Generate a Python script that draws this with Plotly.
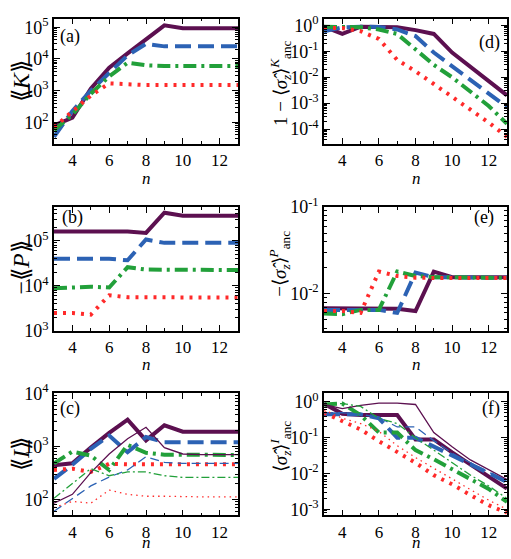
import math
import plotly.graph_objects as go

n = [3, 4, 5, 6, 7, 8, 9, 10, 11, 12, 13]

# (a) <<K>>
a_purple = [80, 140, 1150, 5300, 15000, 43000, 115000, 93000, 93000, 93000, 93000]
a_blue = [35, 230, 1000, 3700, 13000, 30000, 25000, 25000, 25000, 25000, 25000]
a_green = [57, 175, 800, 2800, 7600, 6300, 6000, 6000, 6000, 6000, 6000]
a_red = [70, 230, 700, 1700, 1550, 1500, 1500, 1500, 1500, 1500, 1500]

# (b) -<<P>>
b_purple = [160000, 160000, 160000, 160000, 160000, 150000, 420000, 360000, 360000, 360000, 360000]
b_blue = [40000, 40000, 40000, 40000, 37000, 107000, 90000, 90000, 90000, 90000, 90000]
b_green = [8800, 9200, 9600, 9200, 26000, 23000, 23000, 22500, 22500, 22500, 22500]
b_red = [2500, 2500, 2300, 6200, 5600, 5600, 5600, 5500, 5500, 5500, 5500]

# (c) <<I>>  thick and thin
c_purple = [440, 480, 950, 1800, 3200, 1300, 2500, 1900, 1900, 1900, 1900]
c_blue = [245, 450, 900, 1600, 780, 1500, 1200, 1200, 1200, 1200, 1200]
c_green = [480, 800, 670, 360, 1070, 760, 700, 690, 690, 690, 690]
c_red = [360, 380, 330, 470, 460, 460, 460, 460, 460, 460, 460]
c_purple_thin = [85, 125, 320, 720, 1400, 2300, 950, 720, 700, 700, 700]
c_blue_thin = [60, 105, 180, 265, 360, 640, 500, 480, 480, 480, 480]
c_green_thin = [105, 200, 380, 280, 330, 330, 280, 260, 260, 260, 260]
c_red_thin = [70, 92, 85, 150, 125, 115, 115, 112, 112, 112, 112]

# (d) 1 - <sigma_z>^K_anc
d_purple = [0.9, 0.47, 0.9, 0.9, 0.85, 0.66, 0.47, 0.09, 0.026, 0.0072, 0.002]
d_blue = [0.6, 0.85, 0.9, 0.88, 0.7, 0.39, 0.09, 0.026, 0.0078, 0.0023, 0.0007]
d_green = [0.9, 0.9, 0.85, 0.7, 0.47, 0.12, 0.03, 0.01, 0.0028, 0.00078, 0.00016]
d_red = [0.8, 0.8, 0.6, 0.3, 0.047, 0.017, 0.0055, 0.0018, 0.00055, 0.00018, 0.00005]

# (e) -<sigma_z>^P_anc
e_purple = [0.0068, 0.0068, 0.0068, 0.0068, 0.0067, 0.0063, 0.018, 0.0155, 0.0155, 0.0155, 0.0155]
e_blue = [0.0065, 0.0065, 0.0065, 0.0065, 0.006, 0.0175, 0.0155, 0.0153, 0.0153, 0.0153, 0.0153]
e_green = [0.0059, 0.0058, 0.0065, 0.0065, 0.018, 0.016, 0.0155, 0.0153, 0.0153, 0.0153, 0.0153]
e_red = [0.0063, 0.0063, 0.006, 0.018, 0.016, 0.0153, 0.0152, 0.0152, 0.0152, 0.0152, 0.0152]

# (f) <sigma_z>^I_anc  thick and thin
f_purple = [0.9, 0.47, 0.43, 0.43, 0.43, 0.09, 0.09, 0.039, 0.018, 0.0083, 0.0038]
f_blue = [0.45, 0.45, 0.45, 0.35, 0.1, 0.1, 0.057, 0.031, 0.018, 0.01, 0.0058]
f_green = [0.85, 0.9, 0.43, 0.14, 0.14, 0.045, 0.025, 0.013, 0.007, 0.0037, 0.0016]
f_red = [0.5, 0.3, 0.17, 0.08, 0.04, 0.02, 0.009, 0.005, 0.0025, 0.0013, 0.0008]
f_purple_thin = [0.85, 0.65, 0.8, 0.93, 0.93, 0.85, 0.14, 0.056, 0.024, 0.013, 0.0068]
f_blue_thin = [0.5, 0.5, 0.45, 0.37, 0.2, 0.2, 0.083, 0.037, 0.02, 0.011, 0.006]
f_green_thin = [0.9, 0.9, 0.75, 0.35, 0.25, 0.1, 0.045, 0.02, 0.009, 0.0045, 0.002]
f_red_thin = [0.6, 0.35, 0.25, 0.15, 0.06, 0.028, 0.014, 0.007, 0.0035, 0.0018, 0.001]

PURPLE = "#5c1050"
BLUE = "#2c62b4"
GREEN = "#22a03a"
RED = "#ff2a2a"
FONT = "Liberation Serif"

styles = {
    "purple": dict(color=PURPLE, dash="solid"),
    "blue": dict(color=BLUE, dash="16px,7px"),
    "green": dict(color=GREEN, dash="13px,5px,3px,5px"),
    "red": dict(color=RED, dash="3px,6px"),
}

W, H = 511, 559
cols = [(54, 238), (324, 507)]
rows = [(7, 137), (203, 332), (397, 524)]

fig = go.Figure()

def xd(c):
    return [cols[c][0] / W, cols[c][1] / W]

def yd(r):
    return [1 - rows[r][1] / H, 1 - rows[r][0] / H]

panels = [
    (1, 0, 0, [1.33, 5.27], [("purple", a_purple, 4), ("blue", a_blue, 4), ("green", a_green, 4), ("red", a_red, 4)]),
    (2, 0, 1, [3.0, 5.75], [("purple", b_purple, 4), ("blue", b_blue, 4), ("green", b_green, 4), ("red", b_red, 4)]),
    (3, 0, 2, [1.70, 4.0], [("purple", c_purple, 4), ("blue", c_blue, 4), ("green", c_green, 4), ("red", c_red, 4),
                            ("purple", c_purple_thin, 1.3), ("blue", c_blue_thin, 1.3), ("green", c_green_thin, 1.3), ("red", c_red_thin, 1.3)]),
    (4, 1, 0, [-4.56, 0.26], [("purple", d_purple, 4), ("blue", d_blue, 4), ("green", d_green, 4), ("red", d_red, 4)]),
    (5, 1, 1, [-2.43, -1.0], [("purple", e_purple, 4), ("blue", e_blue, 4), ("green", e_green, 4), ("red", e_red, 4)]),
    (6, 1, 2, [-3.17, 0.24], [("purple", f_purple, 4), ("blue", f_blue, 4), ("green", f_green, 4), ("red", f_red, 4),
                              ("purple", f_purple_thin, 1.3), ("blue", f_blue_thin, 1.3), ("green", f_green_thin, 1.3), ("red", f_red_thin, 1.3)]),
]

def log_ticks(yr):
    lo, hi = yr
    eps = 1e-6
    kmin, kmax = math.ceil(lo - eps), math.floor(hi + eps)
    vals = [10.0 ** k for k in range(kmin, kmax + 1)]
    text = ["10<sup>%d</sup>" % k for k in range(kmin, kmax + 1)]
    minor = []
    for k in range(math.floor(lo) - 1, math.ceil(hi) + 1):
        for m in range(2, 10):
            v = m * 10.0 ** k
            if lo <= math.log10(v) <= hi:
                minor.append(v)
    return vals, text, minor

layout = {}
for idx, c, r, yr, series in panels:
    sfx = "" if idx == 1 else str(idx)
    for name, vals, w in sorted(series, key=lambda s: -s[2]):
        st = styles[name]
        dash = st["dash"]
        if w < 2:
            dash = {"purple": "solid", "blue": "9px,5px", "green": "8px,3px,2px,3px", "red": "1.5px,4px"}[name]
        fig.add_trace(go.Scatter(x=n, y=vals, mode="lines",
                                 line=dict(color=st["color"], width=w, dash=dash),
                                 xaxis="x" + sfx, yaxis="y" + sfx, showlegend=False,
                                 hoverinfo="skip"))
    tv, tt, mv = log_ticks(yr)
    layout["xaxis" + sfx] = dict(
        domain=xd(c), anchor="y" + sfx, range=[3, 13], dtick=2, tick0=4,
        showgrid=False, zeroline=False, showline=True, linecolor="black", linewidth=1.5,
        mirror="allticks", ticks="inside", ticklen=6, tickcolor="black", tickwidth=1,
        minor=dict(dtick=1, tick0=3, ticks="inside", ticklen=3, tickcolor="black", showgrid=False),
        tickfont=dict(family=FONT, size=17, color="black"),
    )
    layout["yaxis" + sfx] = dict(
        domain=yd(r), anchor="x" + sfx, type="log", range=yr,
        tickmode="array", tickvals=tv, ticktext=tt,
        showgrid=False, zeroline=False, showline=True,
        linecolor="black", linewidth=1.5, mirror="allticks", ticks="inside", ticklen=6,
        tickcolor="black", tickwidth=1,
        minor=dict(tickmode="array", tickvals=mv, ticks="inside", ticklen=3,
                   tickcolor="black", showgrid=False),
        tickfont=dict(family=FONT, size=18, color="black"),
    )

ann = []
def A(text, x, y, size=18, angle=0, xanchor="center"):
    ann.append(dict(text=text, x=x / W, y=1 - y / H, xref="paper", yref="paper",
                    showarrow=False, textangle=angle, xanchor=xanchor, yanchor="middle",
                    font=dict(family=FONT, size=size, color="black")))

# panel letters
A("(a)", 70, 25)
A("(b)", 72, 214)
A("(c)", 70, 413)
A("(d)", 489, 32)
A("(e)", 484, 214)
A("(f)", 491, 413)

# x titles
for yy in (173, 367, 552):
    A("<i>n</i>", 146, yy, size=17)
    A("<i>n</i>", 416, yy, size=17)

# y titles
A("⟪<i>K</i>⟫", 21, 72, size=24, angle=-90)
A("−⟪<i>P</i>⟫", 21, 266, size=24, angle=-90)
A("⟪<i>I</i>⟫", 21, 460, size=24, angle=-90)
A("1 − ⟨<i>σ̂</i><sub><i>z</i></sub>⟩<sup><i>K</i></sup><sub>anc</sub>", 280, 74, size=19, angle=-90)
A("−⟨<i>σ̂</i><sub><i>z</i></sub>⟩<sup><i>P</i></sup><sub>anc</sub>", 280, 262, size=19, angle=-90)
A("⟨<i>σ̂</i><sub><i>z</i></sub>⟩<sup><i>I</i></sup><sub>anc</sub>", 280, 452, size=19, angle=-90)

fig.update_layout(
    width=W, height=H, margin=dict(l=0, r=0, t=0, b=0),
    paper_bgcolor="white", plot_bgcolor="white",
    annotations=ann, **layout,
)

fig.write_html("out.html")
